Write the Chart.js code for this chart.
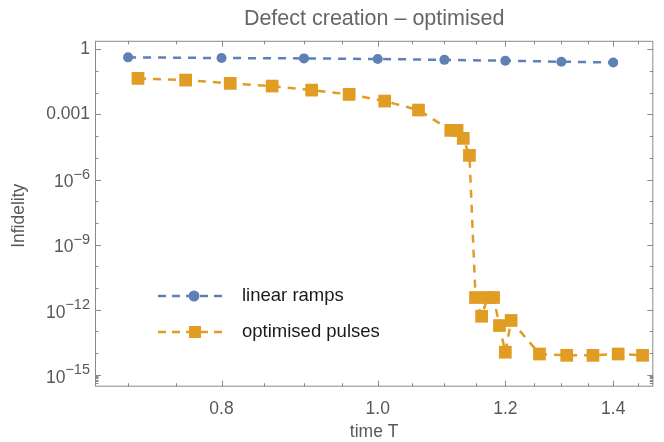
<!DOCTYPE html>
<html><head><meta charset="utf-8">
<script src="https://cdn.jsdelivr.net/npm/chart.js@4/dist/chart.umd.min.js"></script>
<style>html,body{margin:0;padding:0;background:#fff;}#wrap{width:664px;height:442px;}</style>
</head><body><div id="wrap"><canvas id="c" width="664" height="442"></canvas></div>
<script>
const titleText = 'Defect creation \u2013 optimised';
const xTitle = 'time T';
const yTitle = 'Infidelity';
const seriesNames = ['linear ramps', 'optimised pulses'];
const linearT = [0.7, 0.8, 0.9, 1.0, 1.1, 1.2, 1.3, 1.4];
const linearInf = [0.43, 0.40, 0.385, 0.36, 0.33, 0.30, 0.27, 0.25];
const optT = [0.71, 0.76, 0.81, 0.86, 0.91, 0.96, 1.01, 1.06, 1.11, 1.12, 1.13, 1.14, 1.15, 1.16, 1.17, 1.18, 1.19, 1.20, 1.21, 1.26, 1.31, 1.36, 1.41, 1.46];
const optInf = [0.0461, 0.0385, 0.0271, 0.0204, 0.0133, 0.00844, 0.00415, 0.0016, 1.85e-4, 1.85e-4, 7.9e-5, 1.3e-5, 3.65e-12, 5.0e-13, 3.65e-12, 3.65e-12, 1.87e-13, 1.1e-14, 3.2e-13, 9.1e-15, 7.9e-15, 7.9e-15, 9.1e-15, 7.9e-15];
const xMajor = [0.8, 1.0, 1.2, 1.4];
const xMajorLabels = ['0.8', '1.0', '1.2', '1.4'];
const xMinor = [0.7, 0.75, 0.85, 0.9, 0.95, 1.05, 1.1, 1.15, 1.25, 1.3, 1.35, 1.45];
const yMajor = [1, 1e-3, 1e-6, 1e-9, 1e-12, 1e-15];
const yMajorBase = ['1', '0.001', '10', '10', '10', '10'];
const yMajorExp = ['', '', '\u22126', '\u22129', '\u221212', '\u221215'];
const yMinor = [1e-1, 1e-2, 1e-4, 1e-5, 1e-7, 1e-8, 1e-10, 1e-11, 1e-13, 1e-14, 9e-16, 8e-16, 7e-16, 6e-16, 5e-16, 4e-16];

const BLUE = '#5E81B5', ORANGE = '#E19C24';
const FRAME = '#8a8a8a', LABEL = '#585858';
const FONT = "'Liberation Sans', Arial, sans-serif";

const decor = {
  id: 'decor',
  afterDraw(chart) {
    const {ctx, chartArea: a, scales: {x, y}} = chart;
    ctx.save();
    ctx.strokeStyle = FRAME; ctx.lineWidth = 1;
    ctx.strokeRect(a.left + 0.5, a.top + 0.5, a.right - a.left - 1, a.bottom - a.top - 1);
    const tickX = (v, len) => {
      const p = Math.round(x.getPixelForValue(v)) + 0.5;
      ctx.beginPath();
      ctx.moveTo(p, a.bottom); ctx.lineTo(p, a.bottom - len);
      ctx.moveTo(p, a.top); ctx.lineTo(p, a.top + len);
      ctx.stroke();
    };
    const tickY = (v, len) => {
      const p = Math.round(y.getPixelForValue(v)) + 0.5;
      ctx.beginPath();
      ctx.moveTo(a.left, p); ctx.lineTo(a.left + len, p);
      ctx.moveTo(a.right, p); ctx.lineTo(a.right - len, p);
      ctx.stroke();
    };
    xMajor.forEach(v => tickX(v, 6));
    xMinor.forEach(v => tickX(v, 3.5));
    yMajor.forEach(v => tickY(v, 6));
    yMinor.forEach(v => tickY(v, 3.5));
    // y tick labels with superscripts
    ctx.fillStyle = LABEL;
    ctx.textAlign = 'right'; ctx.textBaseline = 'middle';
    const rx = a.left - 5;
    yMajor.forEach((v, i) => {
      const p = y.getPixelForValue(v);
      if (yMajorExp[i]) {
        ctx.font = '14.5px ' + FONT;
        const w = ctx.measureText(yMajorExp[i]).width;
        ctx.fillText(yMajorExp[i], rx, p - 5);
        ctx.font = '17.5px ' + FONT;
        ctx.fillText(yMajorBase[i], rx - w, p + 3);
      } else {
        ctx.font = '17.5px ' + FONT;
        ctx.fillText(yMajorBase[i], rx, p);
      }
    });
    // y axis title
    ctx.save();
    ctx.font = '17.5px ' + FONT;
    ctx.textAlign = 'center'; ctx.textBaseline = 'middle';
    ctx.translate(19, (a.top + a.bottom) / 2 + 2);
    ctx.rotate(-Math.PI / 2);
    ctx.fillText(yTitle, 0, 0);
    ctx.restore();
    // legend
    const items = [[BLUE, 'circle', 296], [ORANGE, 'rect', 332]];
    items.forEach(([col, st, ly], i) => {
      ctx.strokeStyle = col; ctx.lineWidth = 2.5; ctx.setLineDash([8, 6]);
      ctx.beginPath(); ctx.moveTo(158, ly); ctx.lineTo(224, ly); ctx.stroke();
      ctx.setLineDash([]);
      ctx.fillStyle = col;
      if (st === 'circle') { ctx.beginPath(); ctx.arc(194, ly, 5.5, 0, Math.PI * 2); ctx.fill(); }
      else ctx.fillRect(189, ly - 6, 12, 12);
      ctx.fillStyle = '#1a1a1a'; ctx.font = '18.5px ' + FONT;
      ctx.textAlign = 'left'; ctx.textBaseline = 'middle';
      ctx.fillText(seriesNames[i], 242, ly);
    });
    ctx.restore();
  }
};

new Chart(document.getElementById('c'), {
  type: 'line',
  data: {
    datasets: [
      { label: seriesNames[0], data: linearT.map((t, i) => ({x: t, y: linearInf[i]})),
        borderColor: BLUE, backgroundColor: BLUE, borderWidth: 2.5, borderDash: [8, 7],
        pointStyle: 'circle', pointRadius: 5, pointBorderWidth: 0, tension: 0 },
      { label: seriesNames[1], data: optT.map((t, i) => ({x: t, y: optInf[i]})),
        borderColor: ORANGE, backgroundColor: ORANGE, borderWidth: 2.5, borderDash: [8, 7],
        pointStyle: 'rect', pointRadius: 9, pointBorderWidth: 0, tension: 0 }
    ]
  },
  options: {
    responsive: false, animation: false, clip: false,
    layout: { padding: { left: 0, right: 10.7, top: 0, bottom: 0 } },
    plugins: {
      legend: { display: false }, tooltip: { enabled: false },
      title: { display: true, text: titleText, fullSize: false, color: '#666666',
        font: { family: FONT, size: 21.5, weight: 'normal' }, padding: { top: 6, bottom: 9 } }
    },
    scales: {
      x: { type: 'logarithmic', min: 0.6677, max: 1.4825,
        afterBuildTicks: s => { s.ticks = xMajor.map(v => ({value: v})); },
        afterFit: s => { s.height = 55.3; },
        ticks: { autoSkip: false, maxRotation: 0, padding: 12, color: LABEL,
          font: { family: FONT, size: 17.5 }, callback: (v, i) => xMajorLabels[i] },
        grid: { display: false, drawTicks: false }, border: { display: false },
        title: { display: true, text: xTitle, color: LABEL, font: { family: FONT, size: 17.5 }, padding: { top: 0, bottom: -1 } } },
      y: { type: 'logarithmic', min: 2.83e-16, max: 2.49,
        afterBuildTicks: s => { s.ticks = yMajor.map(v => ({value: v})); },
        afterFit: s => { s.width = 95; },
        ticks: { display: false },
        grid: { display: false, drawTicks: false }, border: { display: false } }
    }
  },
  plugins: [decor]
});
</script>
</body></html>
